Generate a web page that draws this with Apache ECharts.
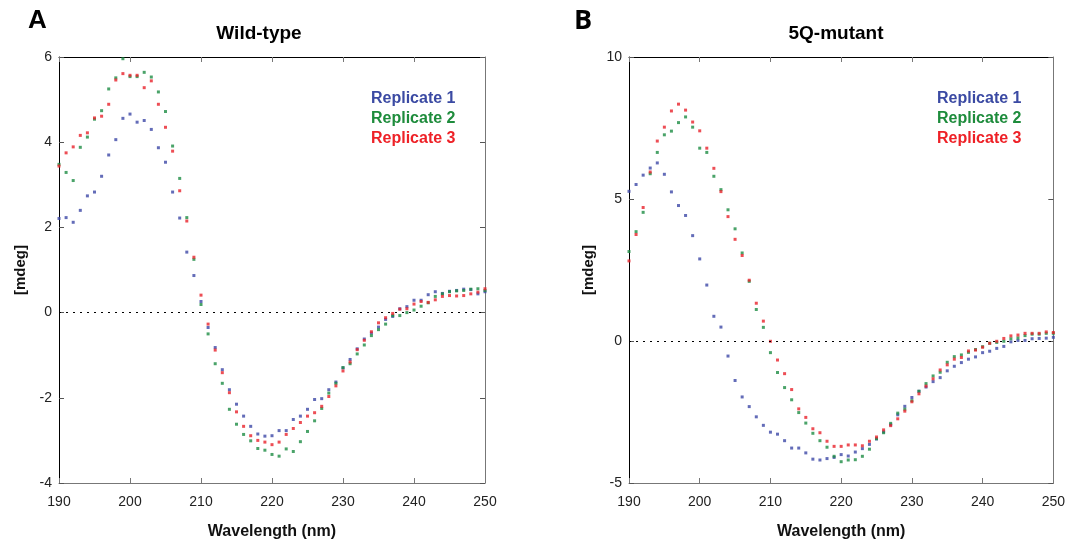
<!DOCTYPE html>
<html>
<head>
<meta charset="utf-8">
<script src="https://cdn.jsdelivr.net/npm/echarts/dist/echarts.min.js"></script>
<style>html,body{margin:0;padding:0;background:#fff}#c{width:1068px;height:545px}</style>
</head>
<body>
<div id="c"></div>
<script>
// Wavelengths 190..250 nm, 1 nm steps
const wavelengths = [190,191,192,193,194,195,196,197,198,199,200,201,202,203,204,205,206,207,208,209,210,211,212,213,214,215,216,217,218,219,220,221,222,223,224,225,226,227,228,229,230,231,232,233,234,235,236,237,238,239,240,241,242,243,244,245,246,247,248,249,250];
const seriesNames = ["Replicate 1","Replicate 2","Replicate 3"];
const xTicks = [190,200,210,220,230,240,250];
const wtTicks = [-4,-2,0,2,4,6];
const mutTicks = [-5,0,5,10];

// Panel A: Wild-type
const wtRep1 = [2.21,2.23,2.12,2.40,2.74,2.83,3.20,3.70,4.06,4.56,4.66,4.47,4.51,4.30,3.87,3.53,2.83,2.22,1.42,0.87,0.26,-0.35,-0.82,-1.34,-1.81,-2.15,-2.43,-2.67,-2.85,-2.90,-2.89,-2.77,-2.77,-2.51,-2.43,-2.27,-2.04,-2.02,-1.81,-1.63,-1.30,-1.10,-0.85,-0.62,-0.48,-0.34,-0.16,-0.09,0.09,0.14,0.29,0.29,0.42,0.49,0.45,0.50,0.52,0.55,0.54,0.44,0.49];
const wtRep2 = [3.48,3.29,3.10,3.88,4.12,4.54,4.74,5.25,5.51,5.96,5.54,5.54,5.64,5.53,5.18,4.72,3.91,3.15,2.23,1.25,0.19,-0.50,-1.20,-1.66,-2.27,-2.62,-2.86,-3.01,-3.19,-3.23,-3.33,-3.37,-3.20,-3.26,-3.03,-2.79,-2.54,-2.25,-1.89,-1.66,-1.29,-1.20,-0.97,-0.76,-0.54,-0.40,-0.27,-0.07,-0.07,0.00,0.06,0.15,0.23,0.38,0.44,0.49,0.51,0.52,0.55,0.56,0.52];
const wtRep3 = [3.44,3.75,3.89,4.16,4.22,4.57,4.61,4.89,5.46,5.61,5.57,5.57,5.28,5.44,4.89,4.35,3.79,2.86,2.15,1.30,0.41,-0.27,-0.88,-1.41,-1.88,-2.33,-2.67,-2.89,-3.00,-3.04,-3.10,-3.04,-2.86,-2.72,-2.58,-2.43,-2.35,-2.20,-1.97,-1.72,-1.37,-1.16,-0.87,-0.65,-0.45,-0.24,-0.12,-0.02,0.08,0.09,0.20,0.26,0.24,0.30,0.38,0.40,0.39,0.40,0.44,0.48,0.56];

// Panel B: 5Q-mutant
const mutRep1 = [5.27,5.51,5.84,6.09,6.27,5.87,5.25,4.77,4.42,3.71,2.89,1.97,0.87,0.49,-0.53,-1.39,-1.97,-2.31,-2.67,-2.97,-3.21,-3.28,-3.51,-3.77,-3.77,-3.94,-4.16,-4.19,-4.14,-4.10,-4.00,-4.05,-3.91,-3.79,-3.64,-3.45,-3.20,-2.95,-2.60,-2.30,-1.99,-1.77,-1.62,-1.43,-1.29,-1.05,-0.89,-0.76,-0.64,-0.56,-0.41,-0.36,-0.26,-0.19,-0.03,0.02,0.02,0.08,0.09,0.10,0.13];
const mutRep2 = [3.15,3.85,4.53,5.89,6.64,7.26,7.39,7.69,7.89,7.53,6.79,6.64,5.80,5.33,4.62,3.95,3.10,2.10,1.11,0.48,-0.41,-1.11,-1.64,-2.07,-2.52,-2.89,-3.25,-3.51,-3.74,-4.06,-4.25,-4.19,-4.18,-4.06,-3.81,-3.44,-3.23,-2.90,-2.54,-2.40,-2.10,-1.77,-1.50,-1.23,-1.10,-0.75,-0.55,-0.49,-0.40,-0.30,-0.20,-0.08,-0.05,-0.01,0.08,0.11,0.19,0.24,0.24,0.27,0.27];
const mutRep3 = [2.82,3.75,4.70,5.95,7.04,7.53,8.10,8.34,8.13,7.71,7.40,6.79,6.08,5.26,4.38,3.58,3.01,2.14,1.33,0.70,-0.01,-0.67,-1.15,-1.71,-2.39,-2.69,-3.09,-3.23,-3.53,-3.71,-3.71,-3.66,-3.66,-3.69,-3.53,-3.38,-3.13,-2.98,-2.74,-2.47,-2.14,-1.86,-1.59,-1.33,-1.02,-0.84,-0.64,-0.58,-0.35,-0.32,-0.22,-0.08,-0.01,0.09,0.18,0.21,0.27,0.27,0.27,0.32,0.30];

const colors = ["#3c47a6","#1d8c43","#e8222b"];
const legendColors = ["#3b4aa3","#1e8c3c","#ee2127"];
const FONT = "Liberation Sans, Arial, sans-serif";

function pairs(vals){ return wavelengths.map((w,i)=>[w, vals[i]]); }

function xAx(gi, bottom, ticks){
  return {
    type:'value', gridIndex:gi, position: bottom?'bottom':'top',
    min: ticks[0], max: ticks[ticks.length-1], interval: 10,
    axisLine:{show:true, onZero:false, lineStyle:{color: bottom?'#777':'#000', width:1}},
    axisTick:{show:true, inside:true, length:5, lineStyle:{color:'#777'}},
    axisLabel:{show:bottom, color:'#222', fontSize:14, fontFamily:FONT, margin:12},
    splitLine:{show:false},
    name: bottom?'Wavelength (nm)':'', nameLocation:'middle', nameGap:41,
    nameTextStyle:{fontSize:16, fontWeight:'bold', color:'#111', fontFamily:FONT}
  };
}
function yAx(gi, left, ticks, interval){
  return {
    type:'value', gridIndex:gi, position: left?'left':'right',
    min: ticks[0], max: ticks[ticks.length-1], interval: interval,
    axisLine:{show:true, onZero:false, lineStyle:{color: left?'#000':'#777', width:1}},
    axisTick:{show:true, inside:true, length:5, lineStyle:{color:'#555'}},
    axisLabel:{show:left, color:'#222', fontSize:14, fontFamily:FONT, margin:7},
    splitLine:{show:false},
    name: left?'[mdeg]':'', nameLocation:'middle', nameGap: gi===0?31:33, nameRotate:90,
    nameTextStyle:{fontSize:15, fontWeight:'bold', color:'#111', fontFamily:FONT}
  };
}
function sc(name, vals, ci, xi, yi, zero){
  const s = {
    name:name, type:'scatter', xAxisIndex:xi, yAxisIndex:yi,
    symbol:'rect', symbolSize:3, itemStyle:{color:colors[ci]},
    data: pairs(vals), animation:false, silent:true
  };
  if(zero){
    s.markLine = {silent:true, symbol:['none','none'], label:{show:false},
      lineStyle:{type:[2,5], color:'#000', width:1},
      data:[{yAxis:0}], animation:false};
  }
  return s;
}
function legend(left){
  return {
    orient:'vertical', left:left, top:91, padding:0, itemGap:4,
    icon:'none', itemWidth:0, itemHeight:16, selectedMode:false,
    textStyle:{fontSize:16, fontWeight:'bold', fontFamily:FONT, lineHeight:16},
    data: seriesNames.map((n,i)=>({name:n, textStyle:{color:legendColors[i]}}))
  };
}

const chart = echarts.init(document.getElementById('c'), null, {renderer:'canvas'});
chart.setOption({
  animation:false,
  backgroundColor:'#fff',
  grid:[
    {left:59, top:57, width:426, height:427},
    {left:629, top:57, width:426, height:427}
  ],
  xAxis:[ xAx(0,true,xTicks), xAx(0,false,xTicks), xAx(1,true,xTicks), xAx(1,false,xTicks) ],
  yAxis:[ yAx(0,true,wtTicks,2), yAx(0,false,wtTicks,2), yAx(1,true,mutTicks,5), yAx(1,false,mutTicks,5) ],
  legend:[ legend(366), legend(932) ],
  graphic:[
    {type:'text', left:28, top:8, style:{text:'A', font:'bold 26px '+FONT, fill:'#000'}},
    {type:'text', left:574, top:8, style:{text:'B', font:'bold 27px "Open Sans", sans-serif', fill:'#000'}},
    {type:'text', style:{x:259, y:34, text:'Wild-type', font:'bold 19px '+FONT, fill:'#000', textAlign:'center', textVerticalAlign:'middle'}},
    {type:'text', style:{x:836, y:34, text:'5Q-mutant', font:'bold 19px '+FONT, fill:'#000', textAlign:'center', textVerticalAlign:'middle'}}
  ],
  series:[
    sc(seriesNames[0], wtRep1, 0, 0, 0, true),
    sc(seriesNames[1], wtRep2, 1, 0, 0, false),
    sc(seriesNames[2], wtRep3, 2, 0, 0, false),
    sc(seriesNames[0], mutRep1, 0, 2, 2, true),
    sc(seriesNames[1], mutRep2, 1, 2, 2, false),
    sc(seriesNames[2], mutRep3, 2, 2, 2, false)
  ]
});
</script>
</body>
</html>
